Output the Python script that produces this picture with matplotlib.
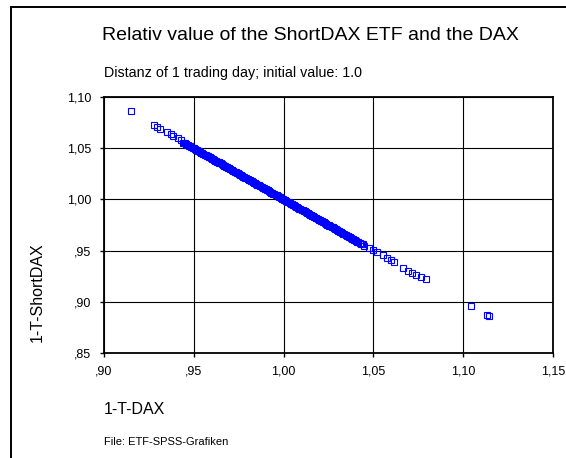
import matplotlib
matplotlib.use('Agg')
import matplotlib.pyplot as plt
from matplotlib.lines import Line2D
from matplotlib.ticker import FuncFormatter

plt.rcParams['font.family'] = ['Liberation Sans', 'DejaVu Sans']

# scattered points at the ends of the cloud (1-T-DAX, 1-T-ShortDAX)
dax_outer = [0.9153, 0.9280, 0.9295, 0.9312, 0.9352, 0.9373, 0.9386, 0.9410,
             0.9427, 0.9442,
             1.0448, 1.0477, 1.0499, 1.0522, 1.0552, 1.0574, 1.0596, 1.0615,
             1.0663, 1.0694, 1.0713, 1.0736, 1.0765, 1.0791,
             1.1042, 1.1131, 1.1146]
short_outer = [1.0861, 1.0727, 1.0704, 1.0688, 1.0658, 1.0636, 1.0622, 1.0597,
               1.0580, 1.0554,
               0.9545, 0.9522, 0.9506, 0.9483, 0.9457, 0.9432, 0.9408, 0.9386,
               0.9333, 0.9304, 0.9284, 0.9262, 0.9239, 0.9220,
               0.8962, 0.8874, 0.8861]

# dense band in the middle
dax_dense = [0.9446, 0.9457, 0.9470, 0.9481, 0.9494, 0.9505, 0.9518, 0.9529,
             0.9541, 0.9553, 0.9566, 0.9577, 0.9589, 0.9602, 0.9613, 0.9625,
             0.9638, 0.9649, 0.9661, 0.9674, 0.9685, 0.9697, 0.9710, 0.9721,
             0.9733, 0.9746, 0.9757, 0.9769, 0.9782, 0.9793, 0.9805, 0.9818,
             0.9829, 0.9841, 0.9854, 0.9865, 0.9877, 0.9890, 0.9901, 0.9913,
             0.9926, 0.9937, 0.9949, 0.9962, 0.9973, 0.9985, 0.9998, 1.0009,
             1.0021, 1.0034, 1.0045, 1.0057, 1.0070, 1.0081, 1.0093, 1.0106,
             1.0117, 1.0129, 1.0142, 1.0153, 1.0165, 1.0178, 1.0189, 1.0201,
             1.0214, 1.0225, 1.0237, 1.0250, 1.0261, 1.0273, 1.0286, 1.0297,
             1.0309, 1.0322, 1.0333, 1.0345, 1.0358, 1.0369, 1.0381, 1.0394,
             1.0405, 1.0417, 1.0430, 1.0442,
             0.9451, 0.9463, 0.9476, 0.9487, 0.9499, 0.9511, 0.9523, 0.9535,
             0.9547, 0.9560, 0.9571, 0.9583, 0.9596, 0.9607, 0.9619, 0.9631,
             0.9643, 0.9655, 0.9668, 0.9679, 0.9691, 0.9703, 0.9715, 0.9727,
             0.9740, 0.9751, 0.9763, 0.9775, 0.9787, 0.9799, 0.9812, 0.9823,
             0.9835, 0.9847, 0.9859, 0.9871, 0.9884, 0.9895, 0.9907, 0.9919,
             0.9931, 0.9943, 0.9956, 0.9967, 0.9979, 0.9991, 1.0003, 1.0015,
             1.0028, 1.0039, 1.0051, 1.0063, 1.0075, 1.0087, 1.0100, 1.0111,
             1.0123, 1.0135, 1.0147, 1.0159, 1.0172, 1.0183, 1.0195, 1.0207,
             1.0219, 1.0231, 1.0244, 1.0255, 1.0267, 1.0279, 1.0291, 1.0303,
             1.0316, 1.0327, 1.0339, 1.0351, 1.0363, 1.0375, 1.0388, 1.0399,
             1.0411, 1.0423, 1.0436]
short_dense = [1.0553, 1.0545, 1.0529, 1.0520, 1.0505, 1.0496, 1.0481, 1.0472,
               1.0458, 1.0448, 1.0433, 1.0424, 1.0410, 1.0399, 1.0386, 1.0376,
               1.0361, 1.0352, 1.0338, 1.0327, 1.0314, 1.0304, 1.0289, 1.0280,
               1.0266, 1.0255, 1.0242, 1.0232, 1.0217, 1.0208, 1.0194, 1.0183,
               1.0170, 1.0160, 1.0145, 1.0136, 1.0122, 1.0111, 1.0098, 1.0088,
               1.0073, 1.0064, 1.0050, 1.0039, 1.0026, 1.0016, 1.0001, 0.9992,
               0.9978, 0.9967, 0.9954, 0.9944, 0.9929, 0.9920, 0.9906, 0.9895,
               0.9882, 0.9872, 0.9857, 0.9848, 0.9834, 0.9823, 0.9810, 0.9800,
               0.9785, 0.9776, 0.9762, 0.9751, 0.9738, 0.9728, 0.9713, 0.9704,
               0.9690, 0.9679, 0.9666, 0.9656, 0.9641, 0.9632, 0.9618, 0.9607,
               0.9594, 0.9584, 0.9569, 0.9560,
               1.0547, 1.0535, 1.0523, 1.0511, 1.0499, 1.0487, 1.0475, 1.0463,
               1.0451, 1.0438, 1.0427, 1.0415, 1.0402, 1.0391, 1.0379, 1.0367,
               1.0355, 1.0343, 1.0330, 1.0319, 1.0307, 1.0295, 1.0283, 1.0271,
               1.0258, 1.0247, 1.0235, 1.0223, 1.0211, 1.0199, 1.0186, 1.0175,
               1.0163, 1.0151, 1.0139, 1.0127, 1.0114, 1.0103, 1.0091, 1.0079,
               1.0067, 1.0055, 1.0042, 1.0031, 1.0019, 1.0007, 0.9995, 0.9983,
               0.9970, 0.9959, 0.9947, 0.9935, 0.9923, 0.9911, 0.9898, 0.9887,
               0.9875, 0.9863, 0.9851, 0.9839, 0.9826, 0.9815, 0.9803, 0.9791,
               0.9779, 0.9767, 0.9754, 0.9743, 0.9731, 0.9719, 0.9707, 0.9695,
               0.9682, 0.9671, 0.9659, 0.9647, 0.9635, 0.9623, 0.9610, 0.9599,
               0.9587, 0.9575, 0.9562]

x_ticks = [0.90, 0.95, 1.00, 1.05, 1.10, 1.15]
y_ticks = [0.85, 0.90, 0.95, 1.00, 1.05, 1.10]


def spss_fmt(v, pos):
    s = '%.2f' % v
    s = s.replace('.', ',')
    if s.startswith('0'):
        s = s[1:]
    return s


fig = plt.figure(figsize=(5.66, 4.58), dpi=100)
W, H = 566, 458
ax = fig.add_axes([104 / W, 1 - 353 / H, 449 / W, 256 / H])

ax.plot(dax_dense + dax_outer, short_dense + short_outer, 's',
        color='#0000ff', markerfacecolor='none', markersize=4.3,
        markeredgewidth=0.8, clip_on=False)

ax.set_xlim(0.90, 1.15)
ax.set_ylim(0.85, 1.10)
ax.set_xticks(x_ticks)
ax.set_yticks(y_ticks)
ax.xaxis.set_major_formatter(FuncFormatter(spss_fmt))
ax.yaxis.set_major_formatter(FuncFormatter(spss_fmt))
ax.grid(True, color='black', linewidth=0.8)
ax.set_axisbelow(True)
for sp in ax.spines.values():
    sp.set_linewidth(1.3)
ax.tick_params(direction='out', length=3, width=1, labelsize=9, pad=6)

fig.text(310 / W, 1 - 36 / H, 'Relativ value of the ShortDAX ETF and the DAX',
         ha='center', va='center', fontsize=14)
fig.text(104 / W, 1 - 73 / H, 'Distanz of 1 trading day; initial value: 1.0',
         ha='left', va='center', fontsize=10.3)
fig.text(104 / W, 1 - 409 / H, '1-T-DAX', ha='left', va='center', fontsize=11.5)
fig.text(37 / W, 1 - 292 / H, '1-T-ShortDAX', ha='center', va='center',
         rotation=90, fontsize=11.5)
fig.text(104 / W, 1 - 442 / H, 'File: ETF-SPSS-Grafiken', ha='left',
         va='center', fontsize=8)

# outer frame of the chart object (cut off at right and bottom)
fig.add_artist(Line2D([11 / W, 11 / W], [0, 1 - 6.5 / H], color='black',
                      linewidth=1.4, transform=fig.transFigure))
fig.add_artist(Line2D([11 / W, 1], [1 - 6.5 / H, 1 - 6.5 / H], color='black',
                      linewidth=1.4, transform=fig.transFigure))

fig.savefig('out.png', dpi=100)
